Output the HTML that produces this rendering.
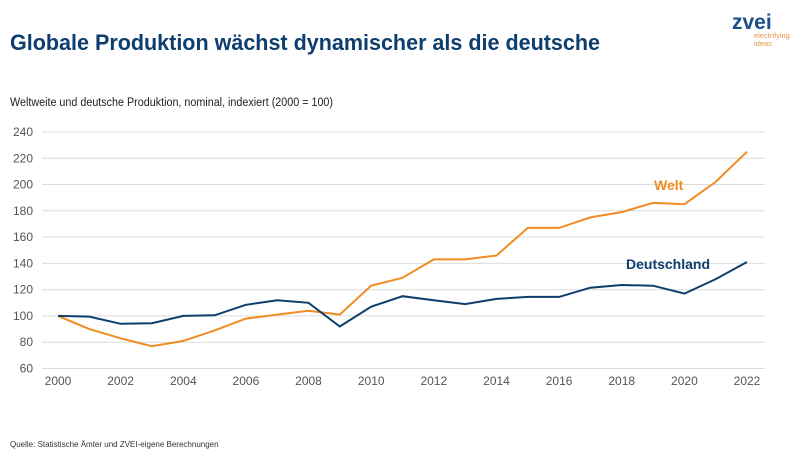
<!DOCTYPE html>
<html><head><meta charset="utf-8"><style>
body{margin:0;width:800px;height:459px;background:#fff;overflow:hidden;font-family:"Liberation Sans",sans-serif}
</style></head><body>
<svg width="800" height="459" xmlns="http://www.w3.org/2000/svg" font-family="Liberation Sans, sans-serif">
<text x="10" y="50" font-size="22" font-weight="bold" fill="#0e3e6e" textLength="590" lengthAdjust="spacingAndGlyphs">Globale Produktion wächst dynamischer als die deutsche</text>
<text x="732" y="29" font-size="21" font-weight="bold" fill="#1d4f87">zvei</text>
<text x="754" y="38" font-size="7.5" fill="#e29a4a">electrifying</text>
<text x="754" y="46" font-size="7.5" fill="#e29a4a">ideas</text>
<text x="10" y="106" font-size="11.5" fill="#222" textLength="323" lengthAdjust="spacingAndGlyphs">Weltweite und deutsche Produktion, nominal, indexiert (2000 = 100)</text>
<g stroke="#dcdcdc" stroke-width="1">
<line x1="42" x2="765" y1="132" y2="132"/><line x1="42" x2="765" y1="158.3" y2="158.3"/>
<line x1="42" x2="765" y1="184.5" y2="184.5"/><line x1="42" x2="765" y1="210.8" y2="210.8"/>
<line x1="42" x2="765" y1="237.1" y2="237.1"/><line x1="42" x2="765" y1="263.4" y2="263.4"/>
<line x1="42" x2="765" y1="289.7" y2="289.7"/><line x1="42" x2="765" y1="315.9" y2="315.9"/>
<line x1="42" x2="765" y1="342.2" y2="342.2"/><line x1="42" x2="765" y1="368.5" y2="368.5"/>
</g>
<g font-size="12" fill="#555" text-anchor="end">
<text x="33" y="136">240</text><text x="33" y="162.3">220</text><text x="33" y="188.5">200</text>
<text x="33" y="214.8">180</text><text x="33" y="241.1">160</text><text x="33" y="267.4">140</text>
<text x="33" y="293.7">120</text><text x="33" y="319.9">100</text><text x="33" y="346.2">80</text><text x="33" y="372.5">60</text>
</g>
<g font-size="12" fill="#555" text-anchor="middle">
<text x="58" y="385">2000</text><text x="120.6" y="385">2002</text><text x="183.3" y="385">2004</text>
<text x="245.9" y="385">2006</text><text x="308.5" y="385">2008</text><text x="371.2" y="385">2010</text>
<text x="433.8" y="385">2012</text><text x="496.5" y="385">2014</text><text x="559.1" y="385">2016</text>
<text x="621.7" y="385">2018</text><text x="684.4" y="385">2020</text><text x="747" y="385">2022</text>
</g>
<polyline fill="none" stroke="#f08c24" stroke-width="2" points="58,315.9 89.3,329.1 120.6,338.3 151.9,346.2 183.3,340.9 214.6,330.4 245.9,318.6 277.2,314.6 308.5,310.7 339.8,314.6 371.2,285.7 402.5,277.8 433.8,259.4 465.1,259.4 496.5,255.5 527.8,227.9 559.1,227.9 590.4,217.4 621.7,212.1 653,202.9 684.4,204.2 715.7,181.9 747,151.7"/>
<polyline fill="none" stroke="#0e3e6e" stroke-width="2" points="58,315.9 89.3,316.6 120.6,323.8 151.9,323.2 183.3,315.9 214.6,315.3 245.9,304.8 277.2,300.2 308.5,302.8 339.8,326.5 371.2,306.7 402.5,296.2 433.8,300.2 465.1,304.1 496.5,298.9 527.8,296.9 559.1,296.9 590.4,287.7 621.7,285 653,285.7 684.4,293.6 715.7,279.1 747,262"/>
<text x="654" y="190" font-size="14" font-weight="bold" fill="#f08c24">Welt</text>
<text x="626" y="269" font-size="14" font-weight="bold" fill="#0e3e6e">Deutschland</text>
<text x="10" y="447" font-size="8" fill="#333">Quelle: Statistische Ämter und ZVEI-eigene Berechnungen</text>
</svg>
</body></html>
